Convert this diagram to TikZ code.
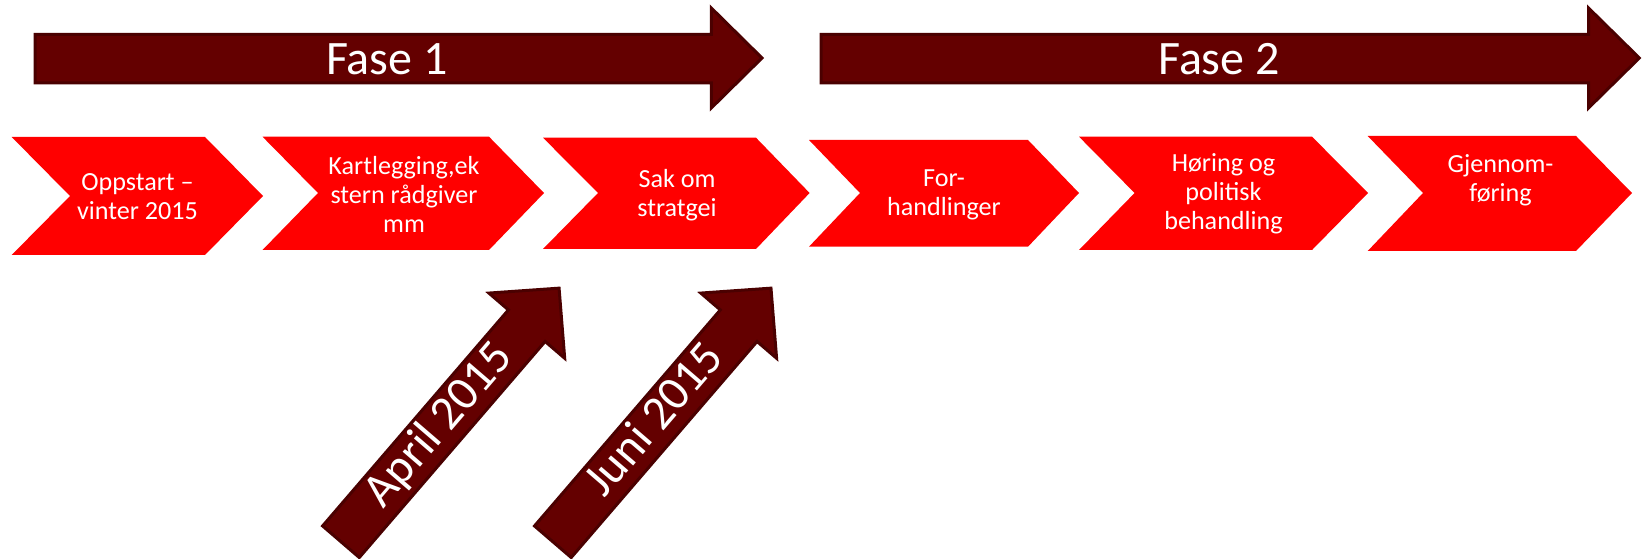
\documentclass[tikz,border=0pt]{standalone}
\usepackage{fontspec}
\setmainfont{Carlito}
\definecolor{darkarrow}{RGB}{100,0,0}
\definecolor{darkedge}{RGB}{74,0,0}
\definecolor{chev}{RGB}{255,0,0}
\begin{document}
\begin{tikzpicture}[x=0.75pt,y=-0.75pt,
  bigarrow/.style={fill=darkarrow,draw=darkedge,line width=2.25pt,line join=miter},
  chevshape/.style={fill=chev,draw=none},
  chevtext/.style={text=white,align=center,font=\fontsize{19.6}{21.8}\selectfont,inner sep=0pt},
  bigtext/.style={text=white,font=\fontsize{36}{42}\selectfont,inner sep=0pt,anchor=base}]
\useasboundingbox (0,0) rectangle (1642,559);

% Phase arrows
\draw[bigarrow] (35,34.3) -- (711.3,34.3) -- (711.3,8) -- (762,58) -- (711.3,108) -- (711.3,83) -- (35,83) -- cycle;
\node[bigtext] (fase1) at (387,75) {Fase 1};
\draw[bigarrow] (821,34.3) -- (1588.5,34.3) -- (1588.5,8) -- (1639.3,58) -- (1588.5,108) -- (1588.5,83) -- (821,83) -- cycle;
\node[bigtext] (fase2) at (1219,75) {Fase 2};

% Chevrons
\fill[chevshape] (11.7,137) -- (205,137) -- (263,196) -- (205,255) -- (11.7,255) -- (70,196) -- cycle;
\node[chevtext] (c1) at (137.5,197) {Oppstart –\\vinter 2015};
\fill[chevshape] (262.5,136.7) -- (489,136.7) -- (544,193) -- (489,250) -- (262.5,250) -- (318,193) -- cycle;
\node[chevtext] (c2) at (404,194) {Kartlegging,ek\\stern rådgiver\\mm};
\fill[chevshape] (543,137.7) -- (756,137.7) -- (809.6,193) -- (756,249) -- (543,249) -- (598,193) -- cycle;
\node[chevtext] (c3) at (677,195) {Sak om\\stratgei};
\fill[chevshape] (809,140) -- (1028,140) -- (1079,193) -- (1028,246.7) -- (809,246.7) -- (860,193) -- cycle;
\node[chevtext] (c4) at (944,195) {For-\\handlinger};
\fill[chevshape] (1079,136.7) -- (1312,136.7) -- (1368,193) -- (1312,250) -- (1079,250) -- (1134.6,193) -- cycle;
\node[chevtext] (c5) at (1223.5,194) {Høring og\\politisk\\behandling};
\fill[chevshape] (1367.7,136) -- (1576,136) -- (1632,193) -- (1576,251) -- (1367.7,251) -- (1423,193) -- cycle;
\node[chevtext] (c6) at (1500.5,180) {Gjennom-\\føring};

% Date arrows
\begin{scope}[shift={(340.3,542.5)},rotate=49.3]
\draw[bigarrow] (1,-24.2) -- (286,-24.2) -- (286,-50) -- (335.5,0) -- (286,50) -- (286,24.2) -- (1,24.2) -- cycle;
\node[bigtext,rotate=49.3] (apr) at (153,11.5) {April 2015};
\end{scope}
\begin{scope}[shift={(552.2,542.5)},rotate=49.3]
\draw[bigarrow] (1,-24.2) -- (286,-24.2) -- (286,-50) -- (335.5,0) -- (286,50) -- (286,24.2) -- (1,24.2) -- cycle;
\node[bigtext,rotate=49.3] (jun) at (160,11.5) {Juni 2015};
\end{scope}
\end{tikzpicture}
\end{document}
